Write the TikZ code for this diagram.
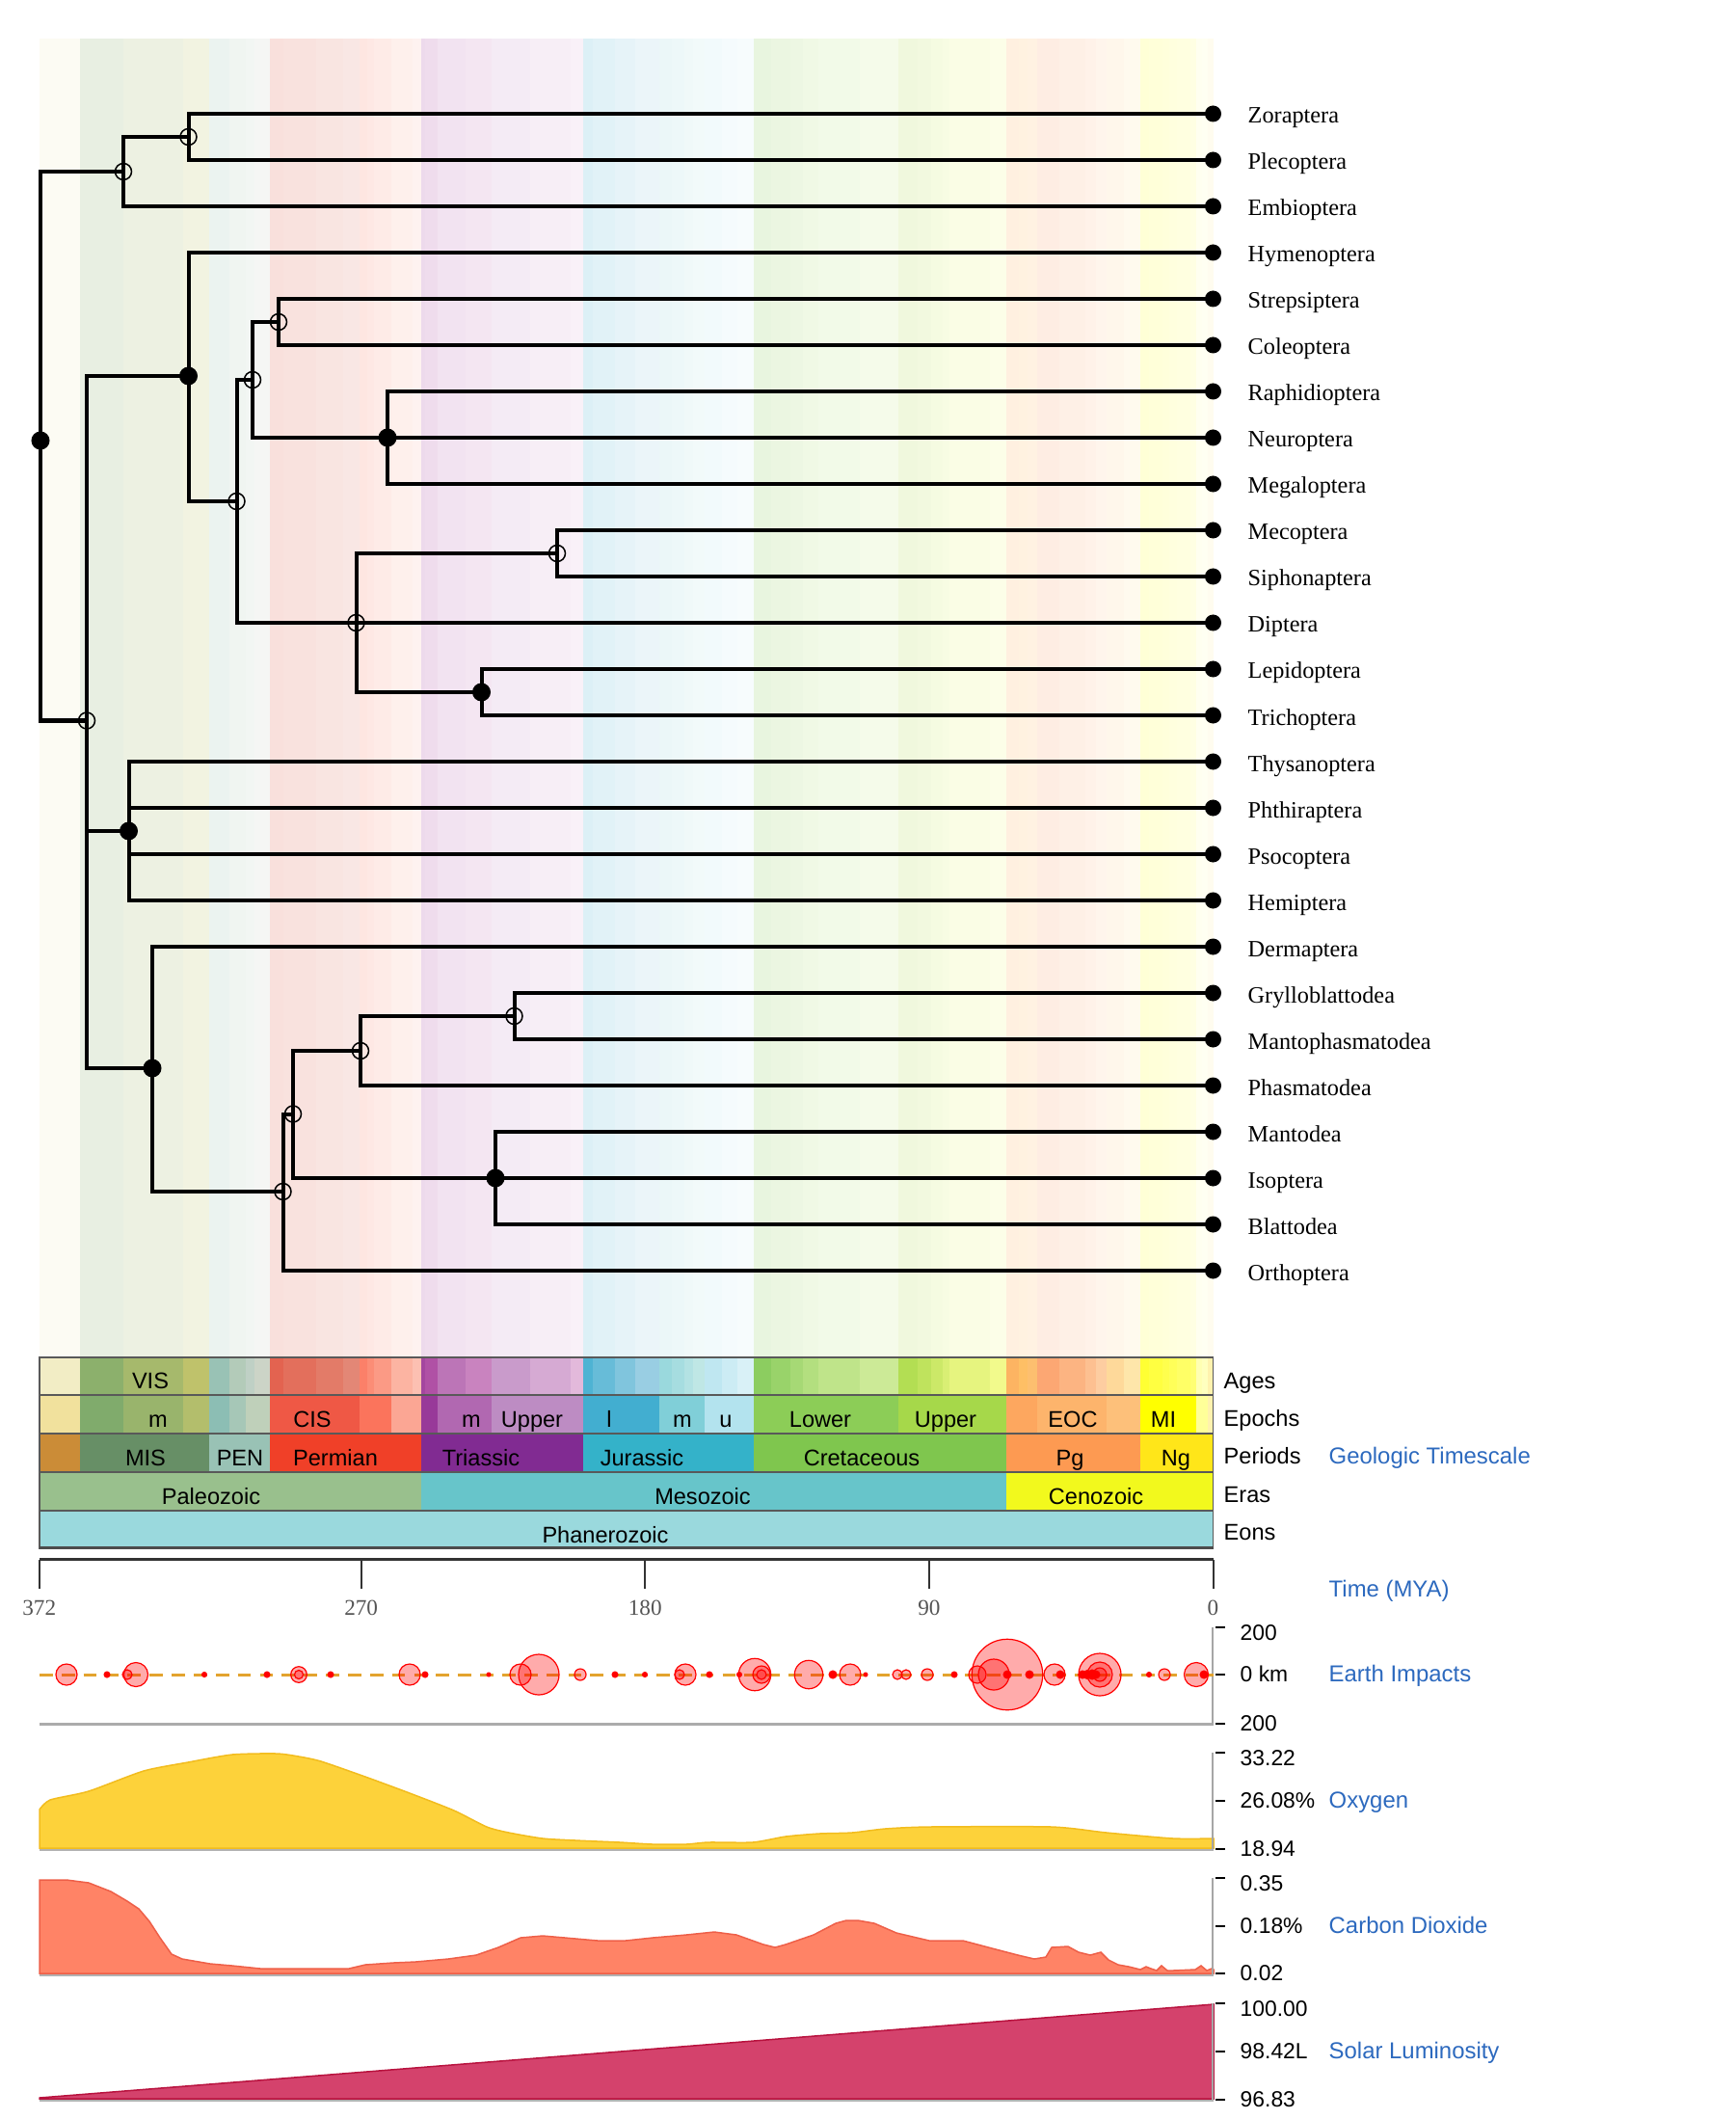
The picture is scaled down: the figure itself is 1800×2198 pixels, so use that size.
\documentclass[tikz,border=0pt]{standalone}
\usepackage{fontspec}
\setmainfont{Liberation Serif}
\setsansfont{Liberation Sans}
\definecolor{blu}{HTML}{2C69BE}
\definecolor{oxy}{HTML}{FDD23A}
\definecolor{oxyd}{HTML}{F2BC1E}
\definecolor{cotwo}{HTML}{FF8366}
\definecolor{cotwod}{HTML}{EE5F48}
\definecolor{sol}{HTML}{D4426C}
\definecolor{sold}{HTML}{B8123E}
\definecolor{impl}{HTML}{E3A32E}
\definecolor{axgray}{HTML}{555555}
\def\agelist{372/359.2/F2EDC5, 359.2/345.3/8CB06C, 345.3/326.4/A6B96C, 326.4/318.1/BFC26B,
318.1/311.7/99C2B5, 311.7/306.5/B3CBB9, 306.5/303.9/BFD0C5, 303.9/299/CCD4C7,
299/294.6/E36350, 294.6/284.4/E36F5C, 284.4/275.6/E37B68, 275.6/270.6/E38776,
270.6/268/FB8069, 268/265.8/FB8D76, 265.8/260.4/FB9A85, 260.4/253.8/FCB4A2, 253.8/251/FCC0B2,
251/249.7/A4469F, 249.7/245.9/B051A5, 245.9/237/BC75B7, 237/228.7/C983BF,
228.7/216.5/C99BCB, 216.5/203.6/D6AAD3, 203.6/199.6/E3B9DB,
199.6/196.5/4EB3D3, 196.5/189.6/67BCD8, 189.6/183/80C5DD, 183/175.6/99CEE3,
175.6/171.6/9AD9DD, 171.6/167.7/A6DDE0, 167.7/164.7/B3E2E3, 164.7/161.2/BFE7E5,
161.2/155.7/BFE7F1, 155.7/150.8/CCECF4, 150.8/145.5/D9F1F7,
145.5/140.2/8CCD60, 140.2/133.9/99D36A, 133.9/130/A6D975, 130/125/B3DF7F, 125/112/BFE48A, 112/99.6/CCEA97,
99.6/93.6/B3DE53, 93.6/89.3/BFE35D, 89.3/85.8/CCE968, 85.8/83.5/D9EF74, 83.5/70.6/E6F47F, 70.6/65.5/F2FA8C,
65.5/61.7/FDB462, 61.7/58.7/FEBF65, 58.7/55.8/FDBF6F, 55.8/48.6/FCA773, 48.6/40.4/FCB482,
40.4/37.2/FDC091, 37.2/33.9/FDCDA1, 33.9/28.4/FED99A, 28.4/23.03/FEE6AA,
23.03/20.43/FFFF33, 20.43/15.97/FFFF41, 15.97/13.82/FFFF4D, 13.82/11.608/FFFF59,
11.608/7.246/FFFF66, 7.246/5.332/FFFF73, 5.332/3.6/FFFFB3, 3.6/1.806/FFFFBF, 1.806/0/FFF2AE}
\def\epochlist{372/359.2/F1E19D, 359.2/345.3/80AB6C, 345.3/326.4/99B46C, 326.4/318.1/B3BE6C,
318.1/311.7/8CBEB4, 311.7/306.5/A6C7B7, 306.5/299/BFD0BA,
299/270.6/EF5845, 270.6/260.4/FB745C, 260.4/251/FBA694,
251/245.9/983999, 245.9/228.7/B168B1, 228.7/199.6/BD8CC3,
199.6/175.6/42AED0, 175.6/161.2/80CFD8, 161.2/145.5/B3E3EE,
145.5/99.6/8CCD57, 99.6/65.5/A6D84A,
65.5/55.8/FDA75F, 55.8/33.9/FDB46C, 33.9/23.03/FDC07A,
23.03/5.332/FFFF00, 5.332/1.806/FFFF99, 1.806/0/FFF2AE}
\def\periodlist{372/359.2/CB8C37, 359.2/318.1/678F66, 318.1/299/99C2B5, 299/251/F04028,
251/199.6/812B92, 199.6/145.5/34B2C9, 145.5/65.5/7FC64E, 65.5/23.03/FD9A52, 23.03/0/FFE619}
\def\eralist{372/251/99C08D, 251/65.5/67C5CA, 65.5/0/F2F91D}
\def\eonlist{372/0/9AD9DD}
\newcommand\tsrow[3]{%
  \foreach \a/\b/\c in #1 {%
    \edef\tmp{\noexpand\definecolor{cc}{HTML}{\c}}\tmp
    \fill[cc] ({1258.5-3.2735*\a},#2) rectangle ({1258.5-3.2735*\b},#3);
  }}
\begin{document}
\begin{tikzpicture}[x=0.01cm,y=-0.01cm,
  edge/.style={line width=0.04cm, black},
  tipdot/.style={circle, fill=black, inner sep=0pt, minimum size=0.17cm},
  opennode/.style={circle, draw=black, line width=0.015cm, inner sep=0pt, minimum size=0.17cm},
  fullnode/.style={circle, fill=black, inner sep=0pt, minimum size=0.19cm},
  taxon/.style={anchor=base west, inner sep=0pt, font=\fontsize{6.9}{8}\selectfont},
  tslab/.style={anchor=base, inner sep=0pt, font=\sffamily\fontsize{6.7}{8}\selectfont},
  rlab/.style={anchor=base west, inner sep=0pt, font=\sffamily\fontsize{6.7}{8}\selectfont},
  blab/.style={anchor=base west, inner sep=0pt, text=blu, font=\sffamily\fontsize{6.8}{8}\selectfont},
  numlab/.style={anchor=base west, inner sep=0pt, font=\sffamily\fontsize{6.5}{8}\selectfont},
  axlab/.style={anchor=base, inner sep=0pt, text=axgray, font=\fontsize{6.6}{8}\selectfont},
  tsline/.style={line width=0.012cm, black!65},
  paxis/.style={line width=0.013cm, black!35},
  ptick/.style={line width=0.018cm, black},
  bigimp/.style={draw=red, line width=0.012cm, fill=red, fill opacity=0.33},
  smallimp/.style={draw=red, line width=0.01cm, fill=red}
]
\useasboundingbox (0,0) rectangle (1800,2198);

% ---------- background bands ----------
\begin{scope}[opacity=0.2]
\tsrow{\agelist}{40}{1408}
\end{scope}

% ---------- timescale ----------
\tsrow{\agelist}{1408}{1447}
\tsrow{\epochlist}{1447}{1487}
\tsrow{\periodlist}{1487}{1527}
\tsrow{\eralist}{1527}{1567}
\tsrow{\eonlist}{1567}{1606}
\foreach \yy in {1447,1487,1527,1567} \draw[tsline] (40.8,\yy) -- (1258.5,\yy);
\draw[line width=0.015cm, black!65] (40.8,1408) rectangle (1258.5,1606);
\draw[line width=0.03cm, black!70] (40.8,1605.5) -- (1258.5,1605.5);

\node[tslab] (vis) at (156,1440) {VIS};
\node[tslab] (ep1) at (164,1480) {m};
\node[tslab] (ep2) at (324,1480) {CIS};
\node[tslab] (ep3) at (489,1480) {m};
\node[tslab] (ep4) at (552,1480) {Upper};
\node[tslab] (ep5) at (632,1480) {l};
\node[tslab] (ep6) at (708,1480) {m};
\node[tslab] (ep7) at (753,1480) {u};
\node[tslab] (ep8) at (851,1480) {Lower};
\node[tslab] (ep9) at (981,1480) {Upper};
\node[tslab] (ep10) at (1113,1480) {EOC};
\node[tslab] (ep11) at (1207,1480) {MI};
\node[tslab] (pe1) at (151,1520) {MIS};
\node[tslab] (pe2) at (249,1520) {PEN};
\node[tslab] (pe3) at (348,1520) {Permian};
\node[tslab] (pe4) at (499,1520) {Triassic};
\node[tslab] (pe5) at (666,1520) {Jurassic};
\node[tslab] (pe6) at (894,1520) {Cretaceous};
\node[tslab] (pe7) at (1110,1520) {Pg};
\node[tslab] (pe8) at (1220,1520) {Ng};
\node[tslab] (er1) at (219,1560) {Paleozoic};
\node[tslab] (er2) at (729,1560) {Mesozoic};
\node[tslab] (er3) at (1137,1560) {Cenozoic};
\node[tslab] (eo1) at (628,1600) {Phanerozoic};

\node[rlab] (rAges) at (1269,1440) {Ages};
\node[rlab] (rEpochs) at (1269,1479) {Epochs};
\node[rlab] (rPeriods) at (1269,1518) {Periods};
\node[rlab] (rEras) at (1269,1558) {Eras};
\node[rlab] (rEons) at (1269,1597) {Eons};
\node[blab] (geo) at (1378,1518) {Geologic Timescale};

% ---------- time axis ----------
\draw[line width=0.022cm, black!80] (40.8,1617.5) -- (1258.5,1617.5);
\foreach \t in {372,270,180,90,0} {
  \draw[line width=0.02cm, black!80] ({1258.5-3.2735*\t},1617.5) -- ({1258.5-3.2735*\t},1648);
  \node[axlab] (ax\t) at ({1258.5-3.2735*\t},1675) {\t};
}
\node[blab] (timelab) at (1378,1656) {Time (MYA)};

% ---------- impacts ----------
\draw[line width=0.03cm, black!33] (41,1788) -- (1259,1788);
\draw[paxis] (1258,1688) -- (1258,1788);
\foreach \yy in {1688,1737,1788} \draw[ptick] (1261,\yy) -- (1271,\yy);
\draw[impl, line width=0.03cm, dash pattern=on 3.9pt off 2.6pt] (41,1737) -- (1259,1737);
\foreach \x/\r in {69/11, 141/12.5, 132/5, 310/8.3, 310/4.5, 425/11, 540/11, 559/21, 602/6,
  711/11, 705/5, 783/16.7, 790/9, 790/5, 839/14.7, 882/11, 931/5, 940/5, 962/6, 1014/9, 1031/16,
  1045/36.7, 1094/11, 1141/22, 1141/13, 1141/7, 1208/6, 1241/12.5}
  \draw[bigimp] (\x,1737) circle[radius={\r*0.28453pt}];
\foreach \x/\r in {111/3, 212/2.5, 277/3, 343/3, 441/3, 507/2, 638/3, 669/2.5, 736/3, 767/2.5,
  864/4, 898/2, 990/3, 1045/4, 1068/4, 1100/4, 1123/4, 1128/4.5, 1133/5, 1137/4, 1192/2.5, 1249/4}
  \draw[smallimp] (\x,1737) circle[radius={\r*0.28453pt}];
\node[numlab] (i1) at (1286,1701) {200};
\node[numlab] (i2) at (1286,1744) {0 km};
\node[numlab] (i3) at (1286,1795) {200};
\node[blab] (implab) at (1378,1744) {Earth Impacts};

% ---------- oxygen ----------
\filldraw[fill=oxy, draw=oxyd, line width=0.015cm] (41,1917) -- plot[smooth, tension=0.4] coordinates {(41,1877) (52,1867) (92,1858) (149,1837) (195,1828) (241,1820) (287,1819) (310,1822) (333,1827) (379,1843) (425,1860) (471,1878) (505,1895) (528,1901) (563,1907) (597,1909) (643,1911) (677,1913) (712,1913) (735,1911) (781,1911) (815,1905) (850,1902) (884,1901) (918,1897) (964,1895) (1091,1895) (1148,1901) (1217,1907) (1259,1907)} -- (1259,1917) -- cycle;
\draw[line width=0.02cm, black!30] (41,1918.5) -- (1259,1918.5);
\draw[paxis] (1258,1818) -- (1258,1918);
\foreach \yy in {1818,1868,1918} \draw[ptick] (1261,\yy) -- (1271,\yy);
\node[numlab] (o1) at (1286,1831) {33.22};
\node[numlab] (o2) at (1286,1875) {26.08\%};
\node[numlab] (o3) at (1286,1925) {18.94};
\node[blab] (oxlab) at (1378,1875) {Oxygen};

% ---------- carbon dioxide ----------
\filldraw[fill=cotwo, draw=cotwod, line width=0.015cm] (41,2047) -- (41,1950) -- (69,1950) -- (92,1953) -- (115,1962) -- (132,1972) -- (144,1980) -- (155,1993) -- (166,2010) -- (178,2027) -- (189,2032) -- (218,2037) -- (241,2039) -- (270,2042) -- (362,2042) -- (379,2038) -- (408,2036) -- (431,2035) -- (465,2032) -- (494,2028) -- (517,2020) -- (540,2010) -- (563,2008) -- (586,2010) -- (620,2013) -- (649,2013) -- (677,2010) -- (712,2007) -- (741,2004) -- (764,2007) -- (792,2017) -- (804,2020) -- (815,2017) -- (844,2007) -- (867,1995) -- (878,1992) -- (890,1992) -- (907,1995) -- (930,2005) -- (964,2013) -- (999,2013) -- (1033,2022) -- (1056,2028) -- (1073,2032) -- (1085,2030) -- (1091,2020) -- (1108,2019) -- (1119,2025) -- (1131,2028) -- (1142,2025) -- (1150,2033) -- (1160,2038) -- (1171,2040) -- (1183,2043) -- (1189,2040) -- (1194,2042) -- (1200,2044) -- (1205,2039) -- (1211,2044) -- (1217,2044) -- (1240,2043) -- (1246,2039) -- (1252,2044) -- (1257,2042) -- (1259,2043) -- (1259,2047) -- cycle;
\draw[line width=0.02cm, black!30] (41,2048.5) -- (1259,2048.5);
\draw[paxis] (1258,1948) -- (1258,2048);
\foreach \yy in {1948,1998,2047} \draw[ptick] (1261,\yy) -- (1271,\yy);
\node[numlab] (c1) at (1286,1961) {0.35};
\node[numlab] (c2) at (1286,2005) {0.18\%};
\node[numlab] (c3) at (1286,2054) {0.02};
\node[blab] (colab) at (1378,2005) {Carbon Dioxide};

% ---------- solar luminosity ----------
\filldraw[fill=sol, draw=sold, line width=0.015cm] (41,2176) -- (1259,2079) -- (1259,2177) -- (41,2177) -- cycle;
\draw[line width=0.02cm, black!30] (41,2178.5) -- (1259,2178.5);
\draw[paxis] (1258,2078) -- (1258,2178);
\foreach \yy in {2078,2128,2178} \draw[ptick] (1261,\yy) -- (1271,\yy);
\node[numlab] (s1) at (1286,2091) {100.00};
\node[numlab] (s2) at (1286,2135) {98.42L};
\node[numlab] (s3) at (1286,2185) {96.83};
\node[blab] (sollab) at (1378,2135) {Solar Luminosity};

% ---------- tree: tips ----------
\foreach \n [count=\i from 0] in {Zoraptera,Plecoptera,Embioptera,Hymenoptera,Strepsiptera,Coleoptera,Raphidioptera,Neuroptera,Megaloptera,Mecoptera,Siphonaptera,Diptera,Lepidoptera,Trichoptera,Thysanoptera,Phthiraptera,Psocoptera,Hemiptera,Dermaptera,Grylloblattodea,Mantophasmatodea,Phasmatodea,Mantodea,Isoptera,Blattodea,Orthoptera} {
  \node[tipdot] (t\i) at (1258.5,{118+48*\i}) {};
  \node[taxon] (lab\i) at (1294,{128+48*\i}) {\n};
}

% ---------- tree: internal nodes ----------
\node[fullnode] (A) at (42,457) {};
\node[opennode] (B) at (128,178) {};
\node[opennode] (D) at (195.5,142) {};
\node[opennode] (C) at (90,747.5) {};
\node[fullnode] (E) at (195.5,390) {};
\node[opennode] (H) at (245.5,520) {};
\node[opennode] (I) at (262,394) {};
\node[opennode] (K) at (289,334) {};
\node[fullnode] (L) at (402,454) {};
\node[opennode] (J) at (369.5,646) {};
\node[opennode] (N) at (578,574) {};
\node[fullnode] (O) at (499.5,718) {};
\node[fullnode] (G) at (133.5,862) {};
\node[fullnode] (M) at (158,1108) {};
\node[opennode] (P) at (293.5,1236) {};
\node[opennode] (Q) at (304,1155.5) {};
\node[opennode] (R) at (374,1090) {};
\node[opennode] (T) at (533.5,1054) {};
\node[fullnode] (S) at (514,1222) {};

\foreach \p/\c in {A/B, A/C, B/D, B/t2, D/t0, D/t1, C/E, C/G, C/M, E/t3, E/H, H/I, H/J,
  I/K, I/L, K/t4, K/t5, L/t6, L/t7, L/t8, J/N, J/t11, J/O, N/t9, N/t10, O/t12, O/t13,
  G/t14, G/t15, G/t16, G/t17, M/t18, M/P, P/Q, P/t25, Q/R, Q/S, R/T, R/t21, T/t19, T/t20,
  S/t22, S/t23, S/t24}
  \draw[edge] (\p.center) |- (\c.center);
\end{tikzpicture}
\end{document}
